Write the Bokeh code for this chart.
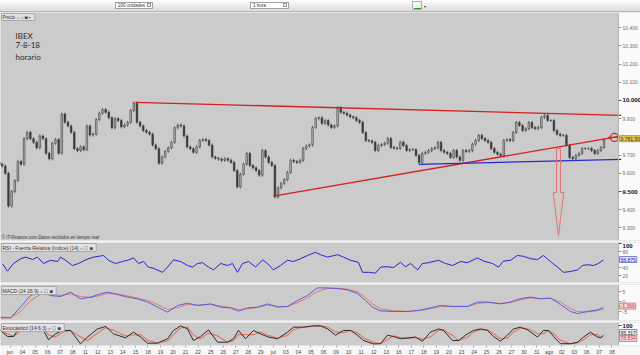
from bokeh.plotting import figure
from bokeh.layouts import column
from bokeh.models import (Range1d, FixedTicker, Label, Div, ColumnDataSource, LinearAxis,
                          BoxAnnotation)
from bokeh.embed import file_html
from bokeh.resources import INLINE

# ---------------- data ----------------
FIRST_DAY = -1          # bars start on the trading day before "jun" (31 May)
OPEN_FIRST = 9660
day_closes = [
    [9650, 9640, 9600, 9420],
    [9500, 9560, 9665, 9650],
    [9790, 9825, 9790, 9770],
    [9740, 9805, 9790, 9710],
    [9680, 9765, 9785, 9710],
    [9925, 9880, 9860, 9825],
    [9735, 9725, 9745, 9730],
    [9860, 9810, 9815, 9895],
    [9930, 9950, 9935, 9905],
    [9850, 9900, 9890, 9855],
    [9865, 9880, 9945, 9985],
    [9880, 9860, 9835, 9825],
    [9815, 9755, 9735, 9655],
    [9690, 9720, 9740, 9770],
    [9850, 9865, 9860, 9805],
    [9745, 9735, 9715, 9745],
    [9780, 9785, 9780, 9755],
    [9690, 9682, 9678, 9671],
    [9680, 9672, 9660, 9615],
    [9525, 9595, 9650, 9709],
    [9643, 9630, 9615, 9590],
    [9725, 9690, 9660, 9643],
    [9470, 9520, 9545, 9565],
    [9605, 9671, 9665, 9660],
    [9671, 9736, 9750, 9755],
    [9852, 9901, 9905, 9874],
    [9890, 9865, 9852, 9860],
    [9960, 9935, 9930, 9920],
    [9910, 9905, 9890, 9880],
    [9824, 9780, 9778, 9770],
    [9725, 9753, 9758, 9765],
    [9791, 9742, 9738, 9736],
    [9770, 9753, 9725, 9730],
    [9730, 9698, 9660, 9709],
    [9715, 9725, 9736, 9740],
    [9770, 9725, 9715, 9709],
    [9687, 9725, 9690, 9671],
    [9725, 9720, 9725, 9760],
    [9780, 9808, 9791, 9780],
    [9770, 9736, 9715, 9705],
    [9698, 9780, 9785, 9780],
    [9824, 9879, 9863, 9835],
    [9845, 9879, 9852, 9845],
    [9852, 9907, 9918, 9890],
    [9890, 9835, 9815, 9808],
    [9808, 9753, 9687, 9681],
    [9698, 9709, 9736, 9736],
    [9736, 9725, 9709, 9725],
    [9742, 9782],
]
BARS_PER_DAY = 4

day_labels = ["jun", "04", "05", "06", "07", "08", "11", "12", "13", "14", "15", "18", "19",
              "20", "21", "22", "25", "26", "27", "28", "29", "jul", "03", "04", "05", "06",
              "09", "10", "11", "12", "13", "16", "17", "18", "19", "20", "23", "24", "25",
              "26", "27", "30", "31", "ago", "02", "03", "06", "07", "08"]

price_ticks = [9300, 9400, 9500, 9600, 9700, 9800, 9900, 10000, 10100, 10200, 10300, 10400]
price_bold = [9500, 10000]
last_price_text = "9.781,90"
last_price = 9790

resist_t = [10.0, 48.75]
resist_p = [9990, 9918]
support_t = [21.0, 48.6]
support_p = [9475, 9803]
base_t = [32.6, 48.75]
base_p = [9649, 9676]
marker_t = [48.2]
marker_p = [9797]
arrow_day = 43.74
arrow_top = 9736
arrow_neck = 9495
arrow_tip = 9259

rsi_t = [-0.6, -0.2, 0.28, 0.84, 1.24, 1.79, 2.19, 2.67, 3.23, 3.79, 4.03, 4.43, 4.98, 5.46,
         6.02, 6.66, 7.46, 7.85, 8.41, 8.97, 9.45, 9.85, 10.25, 10.65, 11.04, 11.44, 12.16,
         12.56, 13.04, 13.6, 14.16, 14.55, 14.95, 15.35, 15.83, 16.23, 16.8, 17.34, 17.74,
         18.14, 18.54, 19.02, 19.58, 20.14, 20.53, 21.01, 21.57, 22.13, 22.6, 23.17, 23.72,
         24.36, 24.76, 25.32, 26.12, 26.59, 27.15, 27.79, 28.11, 28.59, 29.15, 29.55, 30.1,
         30.58, 31.14, 31.54, 31.94, 32.5, 32.89, 33.37, 34.17, 34.73, 35.29, 35.93, 36.48,
         37.28, 37.76, 38.48, 38.96, 39.35, 39.91, 40.47, 40.95, 41.51, 42.07, 42.54, 43.1,
         43.66, 44.14, 44.7, 45.26, 45.65, 46.05, 46.53, 46.92, 47.32]
rsi_v = [49, 31, 50, 62, 66, 60, 66, 50, 58, 55, 66, 58, 45, 50, 59, 66, 70, 58, 50, 55,
         59, 64, 50, 55, 41, 38, 28, 41, 59, 55, 45, 41, 50, 52, 41, 34, 50, 45, 50, 28,
         50, 55, 41, 59, 50, 34, 45, 58, 55, 62, 70, 78, 72, 66, 72, 66, 58, 53, 28, 28,
         26, 41, 42, 40, 53, 42, 50, 34, 50, 52, 58, 50, 45, 55, 52, 64, 56, 50, 41, 56,
         58, 70, 68, 62, 60, 70, 55, 41, 28, 30, 34, 45, 47, 45, 50, 59]
rsi_ticks = [20, 40, 60, 80, 100]
rsi_bold = [100]
rsi_last_text = "58,875"
rsi_last = 60

macd_t = [-0.76, 0.04, 0.84, 1.63, 2.43, 3.23, 4.03, 4.82, 5.62, 6.42, 7.22, 7.78, 8.57, 9.37,
          10.17, 10.96, 11.76, 12.56, 13.36, 14.16, 14.95, 15.99, 16.8, 17.58, 18.22, 18.94,
          19.74, 20.53, 21.33, 22.13, 22.93, 23.72, 24.52, 25.32, 26.12, 26.91, 27.71, 28.35,
          28.9, 29.55, 30.58, 31.7, 32.74, 33.53, 34.33, 35.37, 36.48, 37.28, 38.08, 39.11,
          39.91, 40.71, 41.51, 42.31, 43.1, 43.9, 44.7, 45.26, 46.05, 46.85, 47.32]
macd_v = [-7.8, -8.2, -2.8, 3.0, 4.7, 3.0, 2.5, 4.7, 1.3, 2.2, 3.8, 4.7, 3.5, 2.2, 1.3, -0.3,
          -2.8, -5.3, -2.0, -0.8, -2.0, -1.2, -2.8, -3.2, -4.8, -3.2, -2.8, -1.2, -2.8, -2.5,
          0.5, 3.0, 6.8, 6.8, 6.5, 5.8, 4.0, 0.5, -2.8, -4.7, -5.0, -5.0, -4.3, -3.2, -2.0,
          -2.5, -2.5, -0.3, -0.3, -1.2, -0.3, 1.5, 2.2, 1.3, 1.7, -1.5, -5.0, -6.0, -5.0,
          -4.2, -3.0]
macd_sig = [-8.4, -8.0, -5.0, 0.5, 3.5, 3.8, 3.0, 3.8, 2.5, 2.0, 3.0, 4.0, 3.8, 2.8, 1.8, 0.5,
            -1.5, -4.0, -3.0, -1.5, -1.8, -1.5, -2.3, -3.0, -4.0, -3.6, -3.0, -1.8, -2.4, -2.5,
            -0.5, 1.8, 5.0, 6.5, 6.6, 6.2, 4.8, 2.0, -1.2, -3.6, -4.6, -4.9, -4.5, -3.6, -2.5,
            -2.4, -2.4, -1.0, -0.5, -0.9, -0.5, 0.8, 1.8, 1.5, 1.6, -0.3, -3.5, -5.0, -5.2,
            -4.6, -3.8]
macd_ticks = [-5, 0, 5]
macd_bold = []
macd_last_text = "-1,366"
macd_last = -2.3

sto_t = [-0.76, -0.2, 0.28, 0.68, 1.24, 2.03, 2.67, 3.07, 3.63, 4.19, 4.82, 5.62, 6.18, 6.98,
         7.62, 8.25, 9.21, 9.85, 10.41, 10.96, 11.76, 12.56, 13.04, 13.6, 14.15, 14.63, 15.19,
         15.83, 16.55, 17.34, 17.82, 18.22, 18.78, 19.42, 19.98, 20.61, 21.33, 22.13, 22.61,
         23.41, 24.2, 24.76, 25.32, 25.96, 26.6, 27.15, 27.71, 28.19, 28.99, 29.55, 30.1,
         30.58, 31.14, 31.78, 32.34, 32.89, 33.53, 34.17, 34.57, 35.29, 35.77, 36.48, 36.96,
         37.52, 38.08, 38.56, 39.11, 39.67, 40.15, 40.71, 41.27, 42.07, 42.54, 42.94, 43.34,
         43.9, 44.7, 45.26, 45.73, 46.29, 46.85, 47.09, 47.32]
sto_k = [74, 42, 42, 82, 95, 92, 74, 25, 56, 74, 74, 4, 39, 82, 95, 56, 35, 65, 39, 7,
         7, 30, 74, 98, 82, 21, 42, 77, 12, 12, 30, 74, 30, 74, 56, 39, 30, 65, 91, 91,
         98, 98, 82, 49, 74, 74, 49, 21, 3, 4, 49, 42, 30, 35, 39, 17, 65, 82, 74, 21,
         21, 56, 74, 82, 74, 42, 17, 49, 82, 91, 77, 39, 74, 74, 42, 4, 4, 12, 39, 65,
         39, 35, 49]
sto_d = [76, 55, 44, 62, 88, 94, 84, 50, 40, 65, 74, 40, 20, 60, 88, 76, 45, 50, 52, 22,
         8, 18, 52, 88, 92, 50, 30, 60, 45, 12, 20, 52, 52, 52, 66, 48, 34, 48, 78, 92,
         96, 98, 92, 66, 62, 74, 62, 35, 12, 4, 26, 45, 36, 32, 37, 28, 40, 74, 78, 48,
         21, 38, 65, 78, 78, 58, 30, 33, 66, 86, 84, 58, 56, 74, 58, 22, 4, 8, 25, 52,
         52, 37, 42]
sto_ticks = [100]
sto_bold = [100]
sto_k_text, sto_k_at = "95,317", 63
sto_d_text, sto_d_at = "78,834", 32

# ---------------- build candles ----------------
bx, bo, bc = [], [], []
prev = OPEN_FIRST
for k, day in enumerate(day_closes):
    d = FIRST_DAY + k
    for i, c in enumerate(day):
        bx.append(d + (i + 0.5) / BARS_PER_DAY)
        bo.append(prev)
        bc.append(c)
        prev = c
WICK = 9  # visual wick extension (style)
bars = ColumnDataSource(dict(
    x=bx,
    top=[max(o, c) for o, c in zip(bo, bc)],
    bottom=[min(o, c) for o, c in zip(bo, bc)],
    hi=[max(o, c) + WICK for o, c in zip(bo, bc)],
    lo=[min(o, c) - WICK for o, c in zip(bo, bc)],
    fill=["#b4b4b4" if c >= o else "#404040" for o, c in zip(bo, bc)],
))

# ---------------- layout helpers ----------------
# frame spans the whole 640 px; the price scale column sits at the right of the data area
XR = Range1d(-0.76, 50.28)
AXIS_AT = 48.53
FW = 640
BG = "#cbcbcb"
BORDER = "#f7f7f7"
FONT = "Liberation Sans"


def style_axis(ax, size, color, bold=False, tick_color="#9a9a9a"):
    ax.major_label_text_font_size = size
    ax.major_label_text_font = FONT
    ax.major_label_text_color = color
    ax.major_label_text_font_style = "bold" if bold else "normal"
    ax.major_label_standoff = 1
    ax.major_tick_out = 3
    ax.major_tick_in = 0
    ax.minor_tick_out = 0
    ax.minor_tick_in = 0
    ax.major_tick_line_color = tick_color


def make_panel(frame_h, y0, y1, gap, ticks, labels, bold, xaxis=False, extra_bottom=0):
    p = figure(frame_width=FW, frame_height=frame_h, x_range=XR, y_range=Range1d(y0, y1),
               output_backend="svg", toolbar_location=None,
               x_axis_location="below" if xaxis else None, y_axis_location=None,
               min_border_left=0, min_border_right=0, min_border_top=0,
               min_border_bottom=gap + extra_bottom,
               background_fill_color=BG, border_fill_color=BORDER, outline_line_color=None)
    p.grid.grid_line_color = None
    p.add_layout(BoxAnnotation(left=AXIS_AT, fill_color="#fafafa", fill_alpha=1,
                               line_color=None, level="underlay"))
    lab = dict(zip(ticks, labels))
    plain = [t for t in ticks if t not in bold]
    ax = LinearAxis(fixed_location=AXIS_AT, ticker=FixedTicker(ticks=plain),
                    major_label_overrides={t: lab[t] for t in plain})
    style_axis(ax, "5px", "#707070")
    ax.axis_line_color = "#b5b5b5"
    p.add_layout(ax, "right")
    if bold:
        axb = LinearAxis(fixed_location=AXIS_AT, ticker=FixedTicker(ticks=bold),
                         major_label_overrides={t: lab[t] for t in bold})
        style_axis(axb, "6px", "#111111", bold=True, tick_color="#555555")
        axb.axis_line_color = None
        p.add_layout(axb, "right")
    return p


def header(p, text, frame_h, top_offset, size="5px", style="normal", bg="#e4e4e4"):
    p.add_layout(Label(x=1, y=frame_h - top_offset, x_units="screen", y_units="screen",
                       text=text, text_font_size=size, text_font=FONT, text_color="#333333",
                       text_font_style=style, text_baseline="top",
                       background_fill_color=bg, background_fill_alpha=0.9,
                       border_line_color="#a8a8a8", padding=1))


def value_box(p, y, text, bg, fg, border):
    p.add_layout(Label(x=AXIS_AT + 0.08, y=y, text=text,
                       text_font_size="5px", text_font=FONT, text_color=fg,
                       text_baseline="middle", background_fill_color=bg,
                       border_line_color=border, padding=1))


# ---------------- top bar ----------------
bar_html = (
    '<div style="position:relative;width:640px;height:12px;overflow:hidden;margin:0;'
    'background:linear-gradient(#ffffff,#dcdcdc);border-bottom:1px solid #b5b5b5;'
    'box-sizing:border-box;font-family:Liberation Sans,Arial;font-size:4.5px;color:#333">'
    '<div style="position:absolute;left:115px;top:2px;width:38px;height:7px;background:#fff;'
    'border:1px solid #a0a0a0;box-sizing:border-box;line-height:5px;padding-left:2px">200 unidades'
    '<div style="position:absolute;right:1px;top:0px;width:4px;height:4px;background:#eee;'
    'border:1px solid #999"></div></div>'
    '<div style="position:absolute;left:250px;top:2px;width:39px;height:7px;background:#fff;'
    'border:1px solid #a0a0a0;box-sizing:border-box;line-height:5px;padding-left:2px">1 hora'
    '<div style="position:absolute;right:1px;top:0px;width:4px;height:4px;background:#eee;'
    'border:1px solid #999"></div></div>'
    '<div style="position:absolute;left:412px;top:1px;width:10px;height:9px;'
    'background:linear-gradient(135deg,#ffffff,#d8f0d0);border:1px solid #b0b0b0;'
    'box-sizing:border-box"><div style="position:absolute;left:1px;bottom:0;width:7px;'
    'height:1px;background:#2a9a2a"></div></div>'
    '<div style="position:absolute;left:424px;top:4px;font-size:4px">&#9662;</div>'
    '</div>'
)
topbar = Div(text=bar_html, width=640, height=12, margin=0)

# ---------------- main price panel ----------------
MAIN_H = 228
price_labels = [f"{v:,}".replace(",", ".") for v in price_ticks]
main = make_panel(MAIN_H, 9231, 10483, 2, price_ticks, price_labels, price_bold)

main.segment(x0="x", y0="lo", x1="x", y1="hi", source=bars, line_color="#2a2a2a", line_width=0.6)
main.vbar(x="x", top="top", bottom="bottom", width=0.13, source=bars, fill_color="fill",
          line_color="#2a2a2a", line_width=0.5)

main.line(resist_t, resist_p, line_color="#d42020", line_width=1.3)
main.line(support_t, support_p, line_color="#d42020", line_width=1.3)
main.line(base_t, base_p, line_color="#2a2acc", line_width=1.3)

SW, HW = 0.16, 0.42  # arrow shaft / head half widths (style)
main.patch([arrow_day - SW, arrow_day + SW, arrow_day + SW, arrow_day + HW, arrow_day,
            arrow_day - HW, arrow_day - SW],
           [arrow_top, arrow_top, arrow_neck, arrow_neck, arrow_tip, arrow_neck, arrow_neck],
           fill_color=None, line_color="#e46a6a", line_width=0.9)

main.scatter(marker_t, marker_p, marker="circle", size=8, fill_color=None,
             line_color="#d42020", line_width=1.2)
main.scatter(marker_t, marker_p, marker="dash", size=13, line_color="#d42020", line_width=1.2)

for txt, top in (("IBEX", 18), ("7-8-18", 29), ("horario", 39)):
    main.add_layout(Label(x=15, y=MAIN_H - top, x_units="screen", y_units="screen", text=txt,
                          text_font_size="8px", text_font="Lato", text_color="#2b2b2b",
                          text_baseline="top"))
header(main, "Precio  \u2315 \u25a2 \u25d9 \u25aa", MAIN_H, 1, size="4.5px")
main.add_layout(Label(x=1, y=1, x_units="screen", y_units="screen",
                      text="\u00a9 IT-Finance.com   Datos recibidos en tiempo real",
                      text_font_size="4.5px", text_font=FONT, text_font_style="italic",
                      text_color="#333333", text_baseline="bottom"))
value_box(main, last_price, last_price_text, "#e8c54a", "#333333", "#b89a30")

# ---------------- RSI ----------------
RSI_H = 40
rsi = make_panel(RSI_H, 2.5, 102.5, 2, rsi_ticks, [str(t) for t in rsi_ticks], rsi_bold)
rsi.line(rsi_t, rsi_v, line_color="#2525d0", line_width=1)
header(rsi, "RSI - Fuerza Relativa (Indice) (14)  \u2315 \u25a2 \u25d9", RSI_H, 1)
value_box(rsi, rsi_last, rsi_last_text, "#e4e4f4", "#2525d0", "#8080d0")

# ---------------- MACD ----------------
MACD_H = 36
macd = make_panel(MACD_H, -9.5, 8.5, 2, macd_ticks, [str(t) for t in macd_ticks], macd_bold)
macd.line(macd_t, macd_sig, line_color="#e07a6a", line_width=1)
macd.line(macd_t, macd_v, line_color="#5a5ae6", line_width=1)
header(macd, "MACD (24 26 9)  \u2315 \u25a2 \u25d9", MACD_H, 2)
value_box(macd, macd_last, macd_last_text, "#f2d6d6", "#d04040", "#d08080")

# ---------------- Stochastic ----------------
STO_H = 23
STO_Y0 = -5.3
sto = make_panel(STO_H, STO_Y0, 115.8, 0, sto_ticks, [str(t) for t in sto_ticks], sto_bold,
                 xaxis=True, extra_bottom=10)
sto.line(sto_t, sto_d, line_color="#e07a6a", line_width=1.2)
sto.line(sto_t, sto_k, line_color="#2a2a2a", line_width=1)
header(sto, "Estoc\u00e1stico (14 6 3)  \u2315 \u25a2 \u25d9", STO_H, 1)
value_box(sto, sto_k_at, sto_k_text, "#f0f0f0", "#222222", "#888888")
value_box(sto, sto_d_at, sto_d_text, "#f2d6d6", "#d04040", "#d08080")

# date axis
xa = sto.xaxis[0]
xa.ticker = FixedTicker(ticks=list(range(len(day_labels))))
xa.major_label_overrides = {i: lab for i, lab in enumerate(day_labels)}
style_axis(xa, "5px", "#444444", tick_color="#aaaaaa")
xa.major_tick_out = 2
xa.axis_line_color = None

layout = column(topbar, main, rsi, macd, sto, spacing=0)
open("out.html", "w").write(file_html(layout, INLINE))
